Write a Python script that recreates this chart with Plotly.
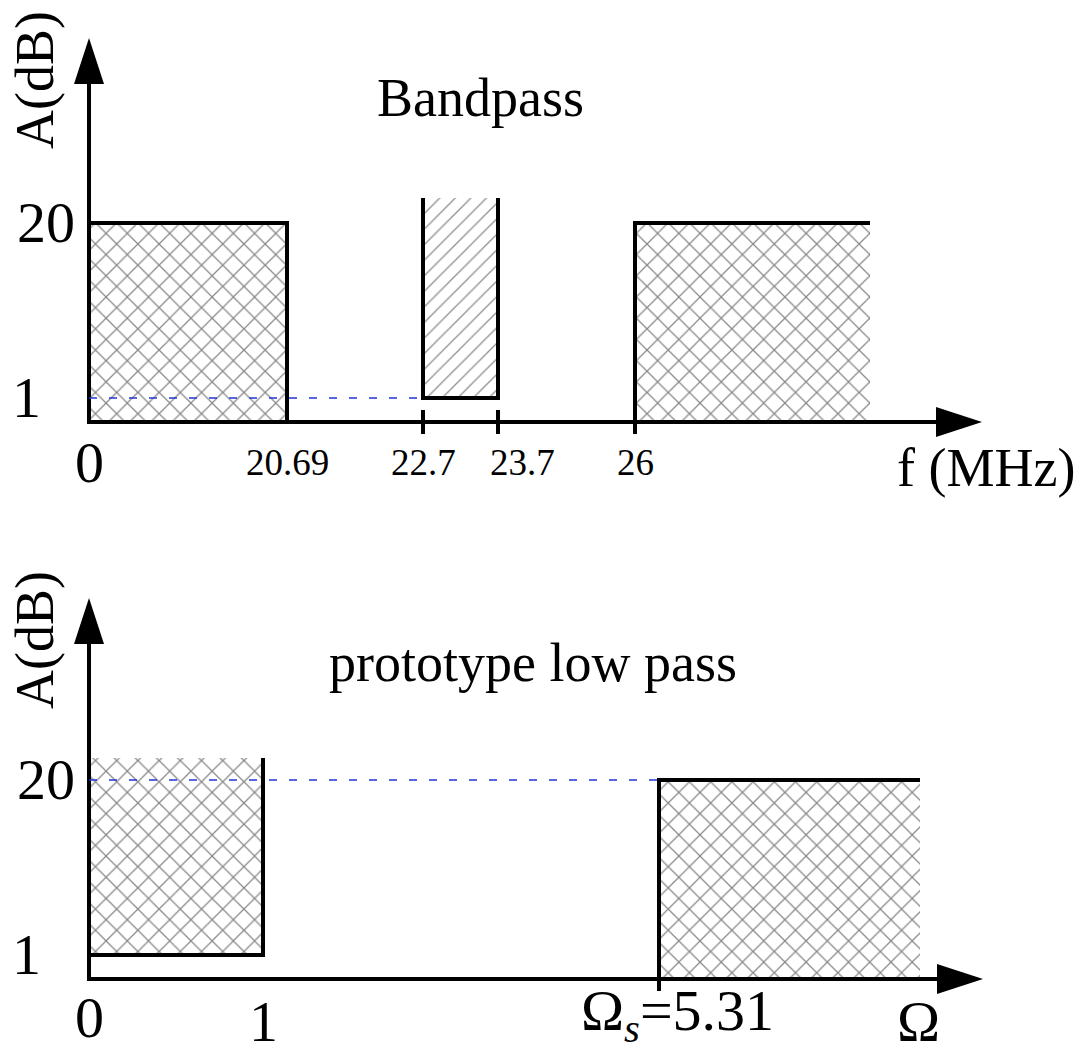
import plotly.graph_objects as go

# ---------------- data ----------------
bp_freqs = [0, 20.69, 22.7, 23.7, 26]                 # MHz band edges (bandpass spec)
bp_freq_labels = ["0", "20.69", "22.7", "23.7", "26"]
bp_pass_edges = [22.7, 23.7]                          # passband, ripple <= 1 dB
bp_lower_stop = [0, 20.69]                            # lower stopband, >= 20 dB
bp_upper_stop_start = 26                              # upper stopband, >= 20 dB

lp_freqs = [0, 1, 5.31]                               # normalised prototype edges
lp_freq_labels = ["0", "1", "Ω<sub><i>s</i></sub>=5.31"]
lp_pass_edge = 1
lp_stop_edge = 5.31

atten_levels = [1, 20]                                # dB
atten_labels = ["1", "20"]

# ---------------- schematic layout (not to scale) ----------------
W, H = 1083, 1055
SPLIT = 0.45
ORIGIN_X = 89                      # pixel column of the vertical axes
TOP_AXIS_ROW, BOT_AXIS_ROW = 422, 979
BP_XPOS = dict(zip(bp_freqs, [0, 198, 334, 409, 546]))
BP_LABEL_SHIFT = {23.7: 24}
BP_STOP_END, BP_TIP = 781, 893
LP_XPOS = dict(zip(lp_freqs, [0, 174, 570]))
LP_LABEL_SHIFT = {5.31: 18}
LP_LABEL_Y = {0: -38, 1: -42, 5.31: -35}
LP_STOP_END, LP_TIP = 831, 894
LEVEL_YPOS = dict(zip(atten_levels, [24, 199]))
TOP_PASS_TOP, BOT_PASS_TOP = 224, 221
TOP_YTIP, BOT_YTIP = 384, 381
TICK = 12
HEAD_L, HEAD_W = 46, 15
LW = 4
FONT = "Liberation Serif"
BIG, LABEL, SMALL = 54, 58, 37

crosshatch = dict(shape="x", fgcolor="#111111", bgcolor="white", size=15, solidity=0.16)
diaghatch = dict(shape="/", fgcolor="#222222", bgcolor="white", size=11, solidity=0.12)
dash_style = dict(color="#2233dd", width=1.5, dash="8px,12px")
solid = dict(color="black", width=LW)

fig = go.Figure()


def rect_fill(xa, ya, x0, x1, y0, y1, pattern):
    fig.add_trace(go.Scatter(x=[x0, x1, x1, x0, x0], y=[y0, y0, y1, y1, y0], mode="lines",
                             fill="toself", fillcolor="white", fillpattern=pattern,
                             line=dict(width=0), xaxis=xa, yaxis=ya, hoverinfo="skip"))


def poly(xa, ya, xs, ys, line):
    fig.add_trace(go.Scatter(x=xs, y=ys, mode="lines", line=line, xaxis=xa, yaxis=ya,
                             hoverinfo="skip"))


def axes_with_arrows(xa, ya, xtip, ytip):
    poly(xa, ya, [0, xtip - HEAD_L + 2], [0, 0], solid)
    poly(xa, ya, [0, 0], [-LW / 2, ytip - HEAD_L + 2], solid)
    fig.add_trace(go.Scatter(x=[xtip, xtip - HEAD_L, xtip - HEAD_L, xtip],
                             y=[0, HEAD_W, -HEAD_W, 0], mode="lines", fill="toself",
                             fillcolor="black", line=dict(width=0, color="black"),
                             xaxis=xa, yaxis=ya, hoverinfo="skip"))
    fig.add_trace(go.Scatter(x=[0, HEAD_W, -HEAD_W, 0],
                             y=[ytip, ytip - HEAD_L, ytip - HEAD_L, ytip], mode="lines",
                             fill="toself", fillcolor="black", line=dict(width=0, color="black"),
                             xaxis=xa, yaxis=ya, hoverinfo="skip"))


def text(xa, ya, x, y, s, size, angle=0):
    fig.add_annotation(x=x, y=y, xref=xa, yref=ya, text=s, showarrow=False, textangle=angle,
                       font=dict(family=FONT, size=size, color="black"),
                       xanchor="center", yanchor="middle", borderpad=0)


lo, hi = LEVEL_YPOS[1], LEVEL_YPOS[20]

# ---------------- top panel: bandpass ----------------
xa, ya = "x", "y"
x_l0, x_l1 = BP_XPOS[bp_lower_stop[0]], BP_XPOS[bp_lower_stop[1]]
x_p0, x_p1 = BP_XPOS[bp_pass_edges[0]], BP_XPOS[bp_pass_edges[1]]
x_u0 = BP_XPOS[bp_upper_stop_start]
rect_fill(xa, ya, x_l0, x_l1, 0, hi, crosshatch)
rect_fill(xa, ya, x_p0, x_p1, lo, TOP_PASS_TOP, diaghatch)
rect_fill(xa, ya, x_u0, BP_STOP_END, 0, hi, crosshatch)
poly(xa, ya, [x_l0, x_l1, x_l1], [hi, hi, 0], solid)
poly(xa, ya, [x_p0, x_p0, x_p1, x_p1], [TOP_PASS_TOP, lo, lo, TOP_PASS_TOP], solid)
poly(xa, ya, [x_u0, x_u0, BP_STOP_END], [-TICK, hi, hi], solid)
for fx in bp_pass_edges:
    poly(xa, ya, [BP_XPOS[fx], BP_XPOS[fx]], [-TICK, TICK], solid)
axes_with_arrows(xa, ya, BP_TIP, TOP_YTIP)
poly(xa, ya, [0, x_p0], [lo, lo], dash_style)

for f, lab in zip(bp_freqs, bp_freq_labels):
    text(xa, ya, BP_XPOS[f] + BP_LABEL_SHIFT.get(f, 0), -40, lab, LABEL if f == 0 else SMALL)
text(xa, ya, 897, -46, "f (MHz)", BIG)
text(xa, ya, 391, 324, "Bandpass", BIG)
text(xa, ya, -54, 342, "A(dB)", BIG, -90)
text(xa, ya, -43, hi + 1, atten_labels[1], LABEL)
text(xa, ya, -63, lo + 1, atten_labels[0], LABEL)

# ---------------- bottom panel: prototype low pass ----------------
xa, ya = "x2", "y2"
x_pe, x_se = LP_XPOS[lp_pass_edge], LP_XPOS[lp_stop_edge]
rect_fill(xa, ya, 0, x_pe, lo, BOT_PASS_TOP, crosshatch)
rect_fill(xa, ya, x_se, LP_STOP_END, 0, hi, crosshatch)
poly(xa, ya, [0, x_pe, x_pe], [lo, lo, BOT_PASS_TOP], solid)
poly(xa, ya, [x_se, x_se, LP_STOP_END], [-TICK, hi, hi], solid)
axes_with_arrows(xa, ya, LP_TIP, BOT_YTIP)
poly(xa, ya, [0, x_se], [hi, hi], dash_style)

for f, lab in zip(lp_freqs, lp_freq_labels):
    text(xa, ya, LP_XPOS[f] + LP_LABEL_SHIFT.get(f, 0), LP_LABEL_Y[f], lab, LABEL)
text(xa, ya, 829, -42, "Ω", LABEL)
text(xa, ya, 444, 316, "prototype low pass", BIG)
text(xa, ya, -54, 339, "A(dB)", BIG, -90)
text(xa, ya, -43, hi + 1, atten_labels[1], LABEL)
text(xa, ya, -63, lo + 1, atten_labels[0], LABEL)

# ---------------- axes / layout ----------------
top_px = (1 - SPLIT) * H
ax_common = dict(visible=False, fixedrange=True)
fig.update_layout(
    width=W, height=H, margin=dict(l=0, r=0, t=0, b=0),
    paper_bgcolor="white", plot_bgcolor="white", showlegend=False,
    xaxis=dict(domain=[0, 1], range=[-ORIGIN_X, W - ORIGIN_X], anchor="y", **ax_common),
    yaxis=dict(domain=[SPLIT, 1], range=[TOP_AXIS_ROW - top_px, TOP_AXIS_ROW], anchor="x", **ax_common),
    xaxis2=dict(domain=[0, 1], range=[-ORIGIN_X, W - ORIGIN_X], anchor="y2", **ax_common),
    yaxis2=dict(domain=[0, SPLIT], range=[BOT_AXIS_ROW - H, BOT_AXIS_ROW - top_px], anchor="x2", **ax_common),
)

fig.write_html("out.html", config={"displayModeBar": False},
               post_script="document.body.style.margin='0';document.body.style.overflow='hidden';")
